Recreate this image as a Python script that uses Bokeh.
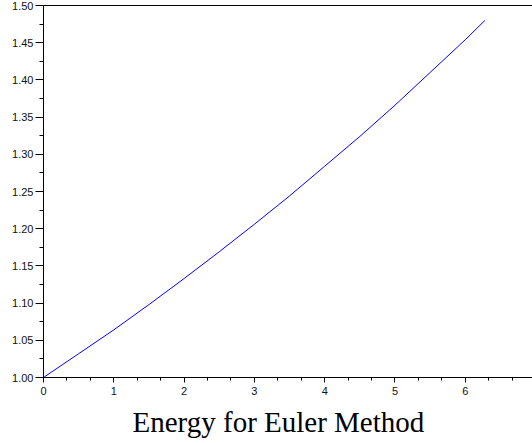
from bokeh.plotting import figure
from bokeh.models import LinearAxis, Range1d, Title, SingleIntervalTicker, FixedTicker, PrintfTickFormatter
from bokeh.embed import file_html
from bokeh.resources import INLINE

# data
t_vals = [0.0, 0.5, 1.0, 1.5, 2.0, 2.5, 3.0, 3.5, 4.0, 4.5, 5.0, 5.5, 6.0, 6.28]
energy = [1.000, 1.032, 1.064, 1.098, 1.133, 1.169, 1.206, 1.244, 1.284, 1.324, 1.366, 1.410, 1.454, 1.480]
title_text = "Energy for Euler Method"

p = figure(width=532, height=443, output_backend="svg", toolbar_location=None,
           x_range=Range1d(0, 6.956), y_range=Range1d(1.0, 1.5),
           min_border_left=43, min_border_right=0, min_border_top=5,
           min_border_bottom=0)
p.outline_line_color = None
p.grid.visible = False
p.background_fill_color = "white"
p.border_fill_color = "white"

p.line(t_vals, energy, line_color="#0000ff", line_width=1)

font = "Liberation Sans"
xa = p.xaxis[0]
xa.ticker = SingleIntervalTicker(interval=1, num_minor_ticks=3)
xa.major_tick_out = 5
xa.major_tick_in = 0
xa.minor_tick_out = 3
xa.minor_tick_in = 0
xa.major_label_standoff = 4
xa.major_label_text_font = font
xa.major_label_text_font_size = "11px"
xa.major_label_text_color = "#111111"
xa.axis_line_color = "black"
xa.major_tick_line_color = "black"
xa.minor_tick_line_color = "black"

ya = p.yaxis[0]
ya.ticker = SingleIntervalTicker(interval=0.05, num_minor_ticks=2)
ya.major_tick_out = 8
ya.major_tick_in = 0
ya.minor_tick_out = 4
ya.minor_tick_in = 0
ya.major_label_standoff = 2
ya.major_label_text_font = font
ya.major_label_text_font_size = "11px"
ya.major_label_text_color = "#111111"
ya.formatter = PrintfTickFormatter(format="%.2f")
ya.axis_line_color = "black"
ya.major_tick_line_color = "black"
ya.minor_tick_line_color = "black"

top = LinearAxis(ticker=FixedTicker(ticks=[]), major_tick_out=0, major_tick_in=0,
                 minor_tick_out=0, minor_tick_in=0, axis_line_color="black")
p.add_layout(top, "above")

p.add_layout(Title(text=title_text, align="left", offset=89, standoff=12,
                   text_font="Liberation Serif",
                   text_font_size="29px", text_font_style="normal", text_color="black"),
             "below")

open("out.html", "w").write(file_html(p, INLINE))
